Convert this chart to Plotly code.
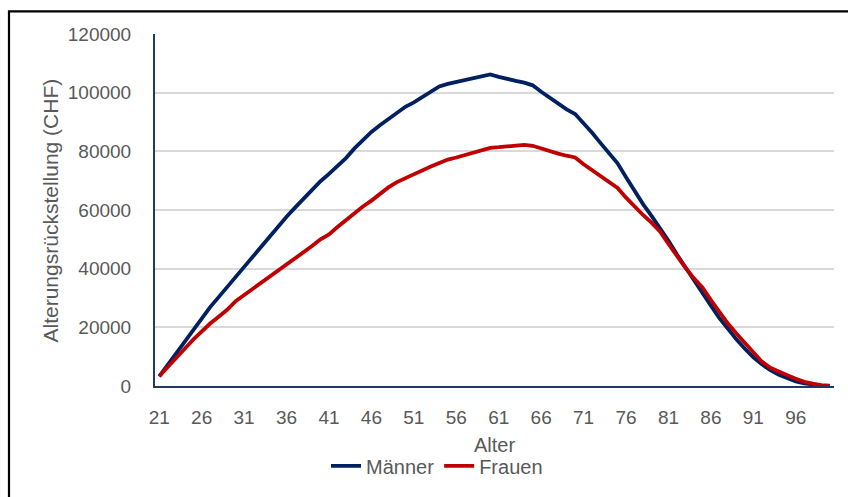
import plotly.graph_objects as go

ages = list(range(21, 101))
maenner = [
    3300, 7200, 11200, 15200, 19300, 23200, 26900, 30300, 33700, 37300,
    40800, 44200, 47600, 51000, 54500, 57700, 60800, 63900, 66900, 69800,
    72300, 75100, 77700, 81000, 84000, 86600, 88900, 91000, 93100, 95200,
    96700, 98500, 100300, 102100, 103000, 103700, 104300, 104900, 105600, 106200,
    105400, 104600, 104000, 103400, 102500, 100300, 98300, 96200, 94300, 92700,
    89700, 86300, 82800, 79300, 75900, 71200, 66300, 62000, 58000, 54000,
    49500, 44800, 40300, 36100, 31900, 27400, 23100, 19300, 15900, 12700,
    9800, 7400, 5400, 3800, 2600, 1600, 900, 400, 150, 50,
]
frauen = [
    3300, 6300, 9400, 12700, 15800, 18700, 21300, 23600, 26000, 28900,
    31000, 33000, 35000, 37000, 39000, 41200, 43300, 45600, 47700, 50000,
    51700, 54200, 56500, 59100, 61200, 63200, 65500, 67700, 69500, 70900,
    72100, 73500, 74800, 76000, 77200, 77900, 78700, 79800, 80600, 81200,
    81400, 81600, 82000, 82200, 81900, 80900, 80200, 79200, 78500, 77900,
    75600, 73500, 71300, 69600, 67500, 64200, 61100, 58300, 55700, 52700,
    48400, 44200, 40300, 36700, 33600, 29300, 25200, 21300, 17900, 14800,
    11400, 8300, 6200, 4800, 3700, 2500, 1400, 800, 300, 150,
]
x_ticks = list(range(21, 100, 5))
y_ticks = [0, 20000, 40000, 60000, 80000, 100000, 120000]

FONT = "Liberation Sans"
GREY = "#595959"

fig = go.Figure()
fig.add_trace(go.Scatter(x=ages, y=maenner, mode="lines", name="Männer",
                         line=dict(color="#002060", width=3.8)))
fig.add_trace(go.Scatter(x=ages, y=frauen, mode="lines", name="Frauen",
                         line=dict(color="#C00000", width=3.8)))

L, R, T, B = 155, 14, 34, 106
W, H = 848, 497
pw = W - L - R
ph = H - T - B

def px(xp):
    return (xp - L) / pw

def py(yp):
    return (H - B - yp) / ph

fig.update_layout(
    width=W, height=H,
    margin=dict(l=L, r=R, t=T, b=B, pad=0),
    paper_bgcolor="white", plot_bgcolor="white",
    font=dict(family=FONT, size=19, color=GREY),
    showlegend=True,
    legend=dict(orientation="h", x=px(437), y=py(472), xanchor="center", yanchor="middle",
                font=dict(family=FONT, size=20, color=GREY), itemwidth=30,
                bgcolor="rgba(0,0,0,0)", tracegroupgap=0),
    xaxis=dict(range=[20.5, 100.5], tickmode="array", tickvals=x_ticks,
               ticktext=[str(v) for v in x_ticks], showgrid=False, zeroline=False,
               showline=True, linecolor="#203864", linewidth=2, ticks="",
               ticklabelstandoff=13, tickfont=dict(family=FONT, size=19, color=GREY)),
    yaxis=dict(range=[0, 120000], tickmode="array", tickvals=y_ticks,
               ticktext=[str(v) for v in y_ticks], showgrid=True, gridcolor="#D9D9D9",
               gridwidth=1.5, zeroline=False, showline=True, linecolor="#203864",
               linewidth=2, ticks="", ticklabelstandoff=18,
               tickfont=dict(family=FONT, size=19, color=GREY)),
    annotations=[
        dict(text="Alterungsrückstellung (CHF)", xref="paper", yref="paper",
             x=px(50), y=py(213), textangle=-90, showarrow=False,
             xanchor="center", yanchor="middle",
             font=dict(family=FONT, size=21, color=GREY)),
        dict(text="Alter", xref="paper", yref="paper", x=px(494), y=py(451),
             showarrow=False, xanchor="center", yanchor="middle",
             font=dict(family=FONT, size=20, color=GREY)),
    ],
    shapes=[
        dict(type="rect", xref="paper", yref="paper",
             x0=px(9), x1=px(880), y0=py(540), y1=py(11),
             line=dict(color="black", width=2.2), fillcolor="rgba(0,0,0,0)", layer="above"),
    ],
)

fig.write_html("out.html")
